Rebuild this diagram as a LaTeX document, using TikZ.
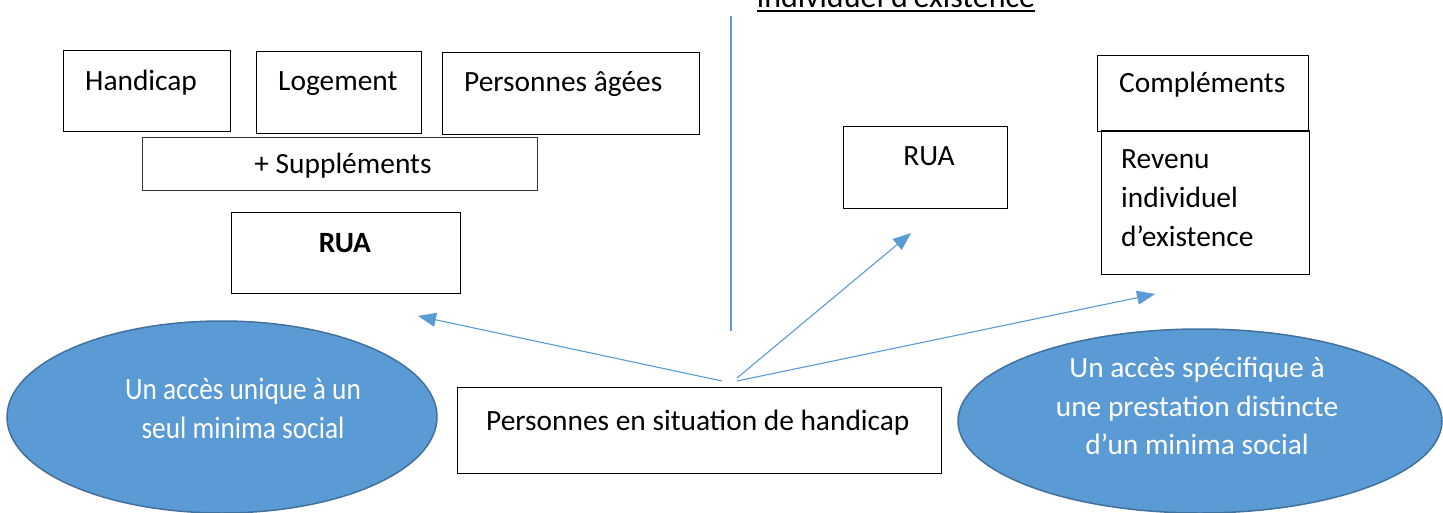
\documentclass[tikz,border=0pt]{standalone}
\usepackage{fontspec}
\setmainfont{Carlito}
\usetikzlibrary{arrows.meta,shapes.geometric}
\definecolor{ellfill}{HTML}{5B9BD5}
\definecolor{elldraw}{HTML}{41719C}
\definecolor{arrowblue}{HTML}{5B9BD5}
\tikzset{
  box/.style={draw=black, line width=1.4pt, rectangle, inner sep=0pt, anchor=north west},
  thinbox/.style={draw=black!80, line width=0.9pt, rectangle, inner sep=0pt, anchor=north west},
  txt/.style={inner sep=0pt, anchor=base west, font=\fontsize{29.4}{36}\selectfont},
  elltxt/.style={inner sep=0pt, text=white, align=center},
  blob/.style={ellipse, fill=ellfill, draw=elldraw, line width=1.5pt, inner sep=0pt},
  conn/.style={draw=arrowblue, line width=1.1pt, -{Triangle[length=18pt,width=14pt]}},
  plainline/.style={draw=arrowblue, line width=1.1pt}
}
\begin{document}
\begin{tikzpicture}[x=1pt,y=-1pt]
\useasboundingbox (0,0) rectangle (1443,512);
\clip (0,0) rectangle (1443,512);
\fill[white] (0,0) rectangle (1443,512);

% top title, cut off by the top edge as in the reference
\node[inner sep=0pt, anchor=base, font=\fontsize{32}{38}\selectfont] (title) at (896,7) {individuel d’existence};
\draw[line width=2pt] (title.south west |- 0,11) -- (title.south east |- 0,11);

% vertical divider
\coordinate (vtop) at (731,16);
\coordinate (vbot) at (731,331);
\draw[plainline] (vtop) -- (vbot);

% left group
\node[box, minimum width=167, minimum height=81] (hand) at (63,50) {};
\node[txt] (handt) at (85,90) {Handicap};
\node[box, minimum width=165, minimum height=82] (loge) at (256,51) {};
\node[txt] (loget) at (278,90) {Logement};
\node[box, minimum width=257, minimum height=82] (agees) at (442,52) {};
\node[txt] (ageest) at (464,91) {Personnes âgées};
\node[thinbox, minimum width=395, minimum height=53] (supp) at (142,137) {};
\node[txt, anchor=base] (suppt) at (343,173) {+ Suppléments};
\node[box, minimum width=229, minimum height=81] (rua1) at (231,212) {};
\node[txt, anchor=base, font=\fontsize{29.4}{36}\selectfont\bfseries] (rua1t) at (345,252) {RUA};

% right group
\node[box, minimum width=164, minimum height=82] (rua2) at (843,126) {};
\node[txt, anchor=base] (rua2t) at (929,165) {RUA};
\node[box, minimum width=211, minimum height=76] (compl) at (1097,55) {};
\node[txt] (complt) at (1119,92) {Compléments};
\node[box, minimum width=208, minimum height=144] (rev) at (1101,130) {};
\node[txt] (rev1) at (1121,168) {Revenu};
\node[txt] (rev2) at (1121,207) {individuel};
\node[txt] (rev3) at (1121,246) {d’existence};

% bottom
\node[box, minimum width=484, minimum height=86] (pers) at (457,387) {};
\node[txt] (perst) at (486,430) {Personnes en situation de handicap};

\node[blob, minimum width=430, minimum height=192] (ell1) at (222,417) {};
\node[elltxt, font=\fontsize{31}{39}\selectfont] (ell1t) at (243,408) {\scalebox{0.88}[1]{Un accès unique à un}\\\scalebox{0.88}[1]{seul minima social}};
\node[blob, minimum width=484, minimum height=184] (ell2) at (1200,421) {};
\node[elltxt, font=\fontsize{29.4}{38.5}\selectfont] (ell2t) at (1197,406) {Un accès spécifique à\\une prestation distincte\\d’un minima social};

% arrows
\coordinate (s1) at (722,381);
\coordinate (e1) at (418,316);
\coordinate (s2) at (737,378);
\coordinate (e2) at (911,233);
\coordinate (s3) at (737,381);
\coordinate (e3) at (1155,294);
\draw[conn] (s1) -- (e1);
\draw[conn] (s2) -- (e2);
\draw[conn] (s3) -- (e3);
\end{tikzpicture}
\end{document}
